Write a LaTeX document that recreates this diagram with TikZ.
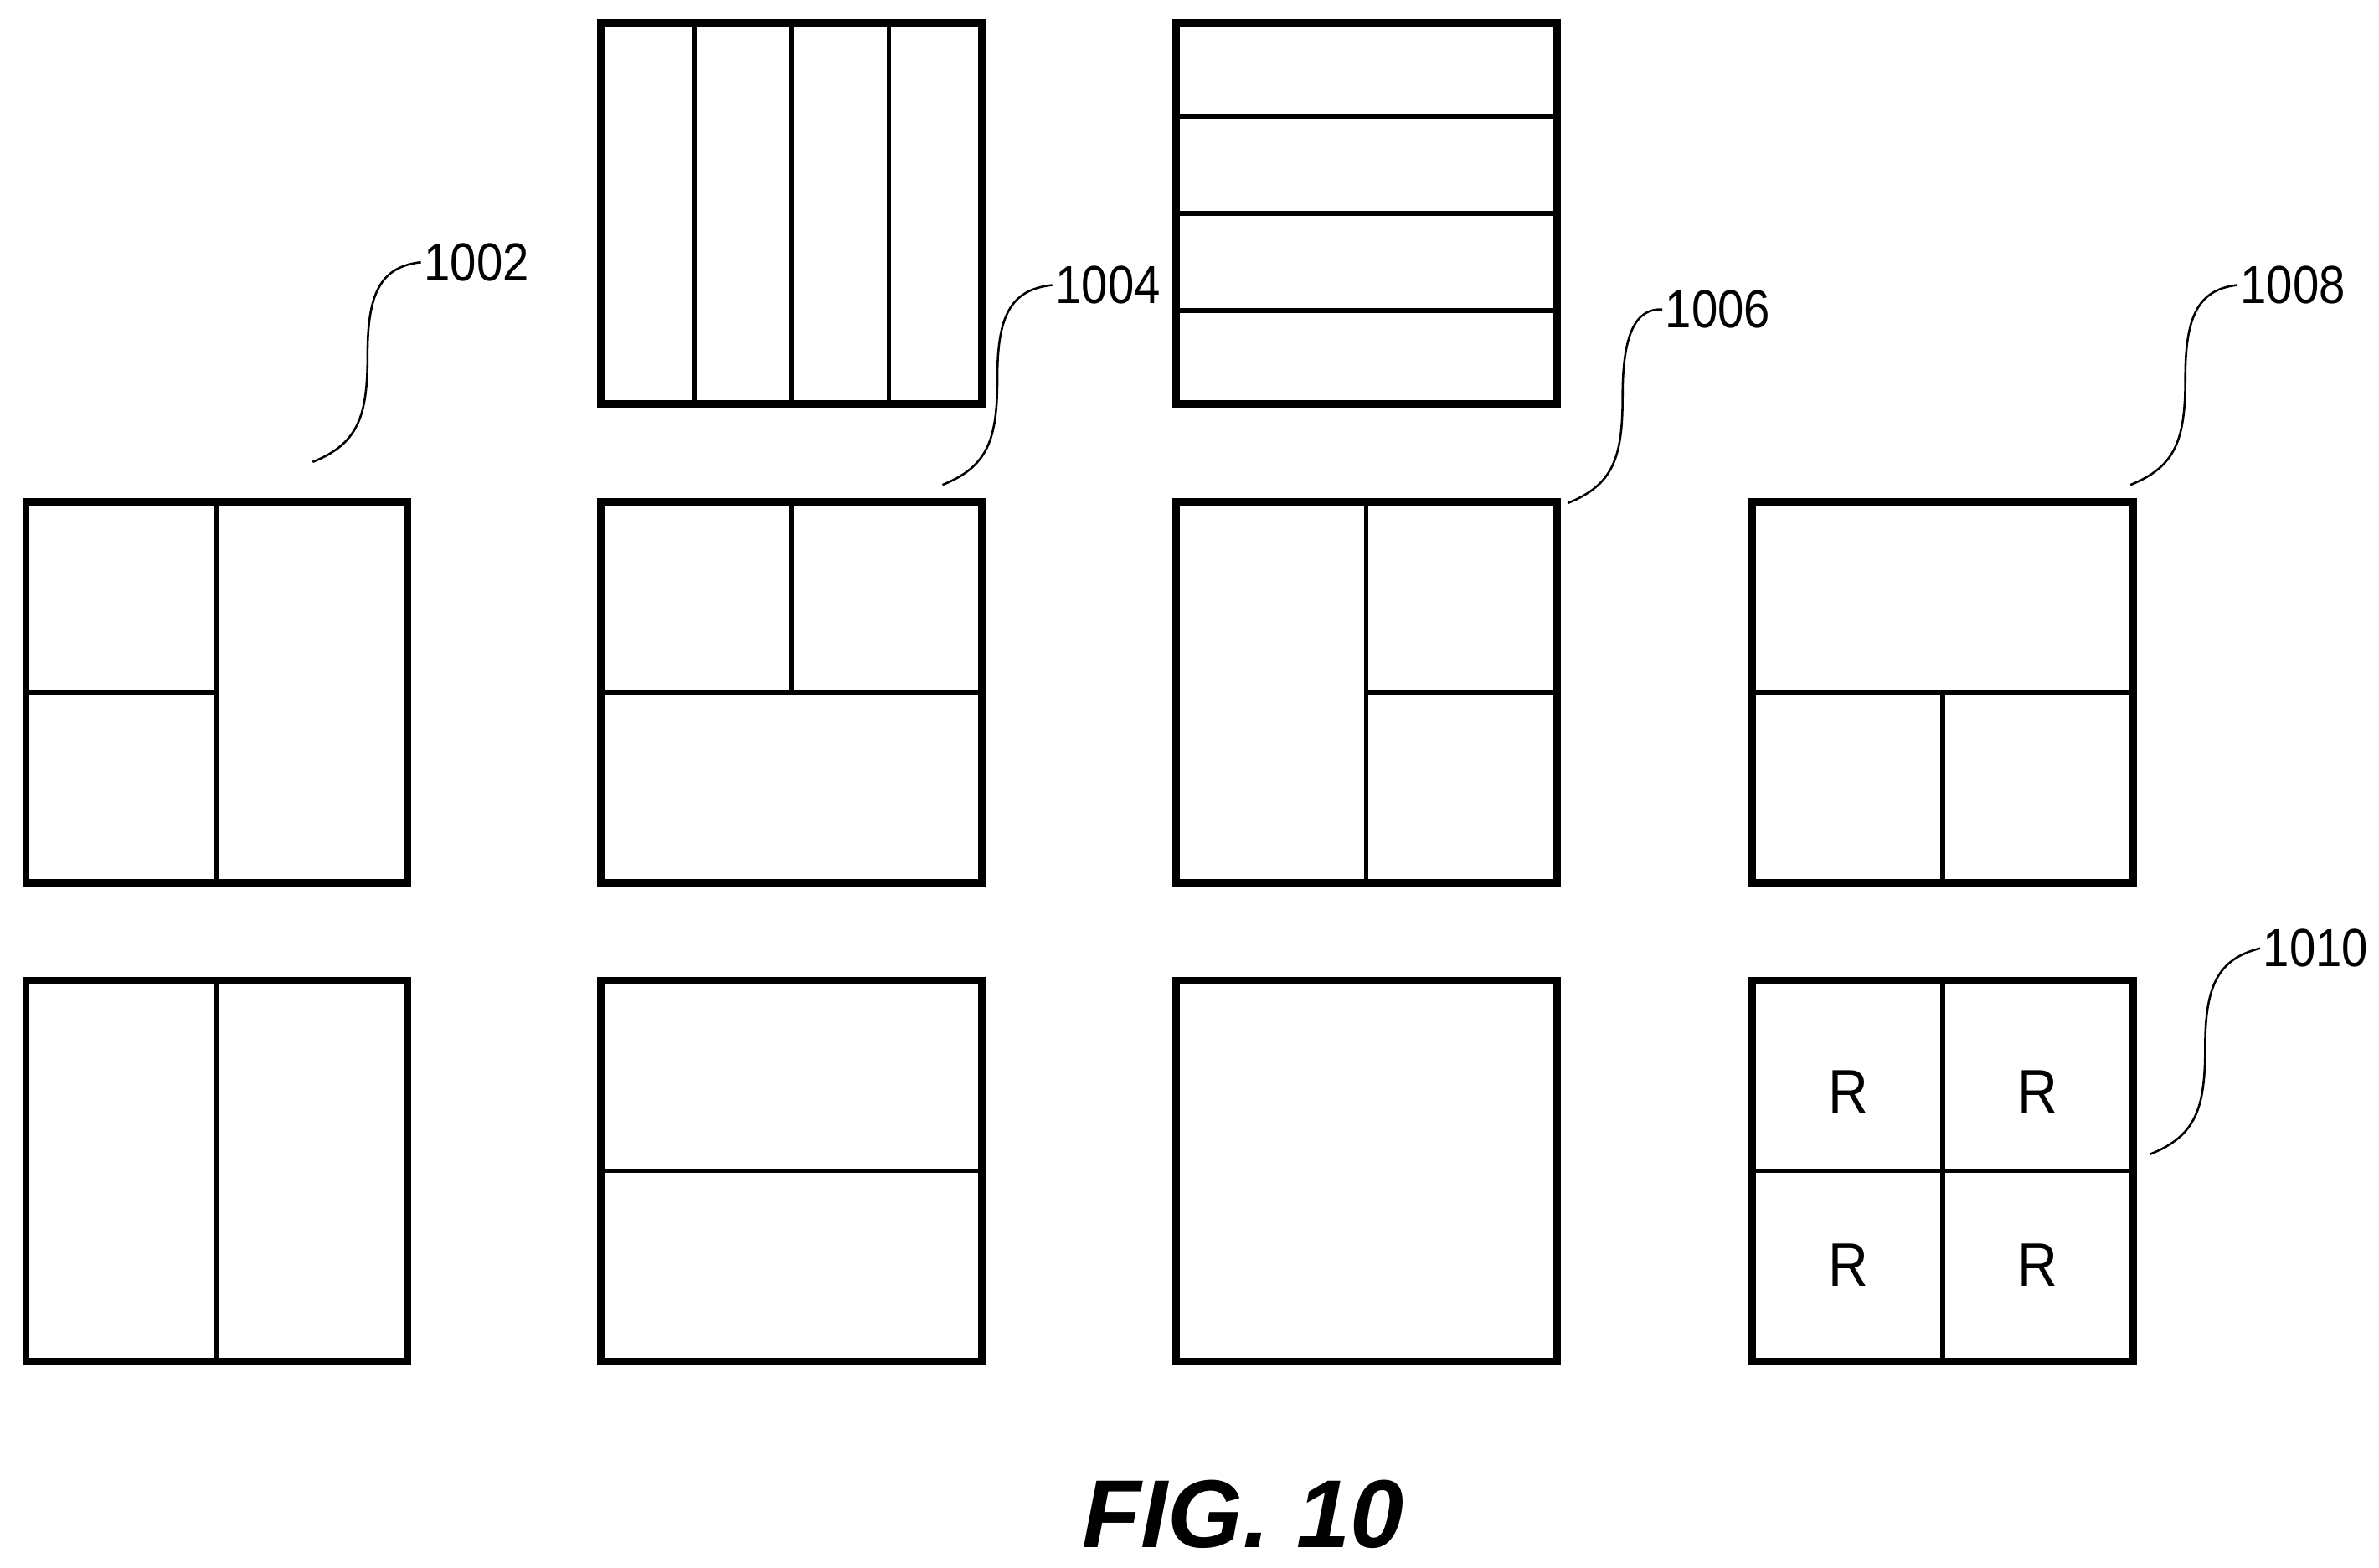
\documentclass[tikz,border=0pt]{standalone}
\usepackage{fontspec}
\setmainfont{Liberation Sans}
\usetikzlibrary{positioning,calc}

\begin{document}
\begin{tikzpicture}[x=0.02cm, y=-0.02cm,
        panel/.style={draw, line width=2.8pt, minimum size=5cm, inner sep=0pt},
        split/.style={line width=1.7pt},
        leader/.style={line width=0.8pt},
        ref/.style={font=\addfontfeatures{FakeStretch=0.88}\fontsize{20}{22}\selectfont, anchor=west, inner sep=1pt}]
        \useasboundingbox (0,0) rectangle (1560,1028);
        % Place panels
        \node [panel] (t1) at (519,140) {};
        \node [panel] (t2) at (896,140) {};
        \foreach \c/\x in {1/142,2/519,3/896,4/1274} {
            \node [panel] (m\c) at (\x,454) {};
            \node [panel] (b\c) at (\x,768) {};
        }

        % Split lines
        \foreach \f in {0.25,0.5,0.75} {
            \draw [split] ($(t1.north west)!\f!(t1.north east)$) -- ($(t1.south west)!\f!(t1.south east)$);
            \draw [split] ($(t2.north west)!\f!(t2.south west)$) -- ($(t2.north east)!\f!(t2.south east)$);
        }
        \draw [split] (m1.north) -- (m1.south);
        \draw [split] (m1.west) -- (m1.center);
        \draw [split] (m2.west) -- (m2.east);
        \draw [split] (m2.north) -- (m2.center);
        \draw [split] (m3.north) -- (m3.south);
        \draw [split] (m3.center) -- (m3.east);
        \draw [split] (m4.west) -- (m4.east);
        \draw [split] (m4.center) -- (m4.south);
        \draw [split] (b1.north) -- (b1.south);
        \draw [split] (b2.west) -- (b2.east);
        \draw [split] (b4.north) -- (b4.south);
        \draw [split] (b4.west) -- (b4.east);
        \foreach \dx/\dy in {-62/-52,62/-52,-62/62,62/62}
            \node [font=\addfontfeatures{FakeStretch=0.9}\fontsize{23}{25}\selectfont] at ($(b4.center)+(\dx,\dy)$) {R};

        % Reference labels and leaders
        \node [ref] (l1002) at (276,172) {1002};
        \node [ref] (l1004) at (690,187) {1004};
        \node [ref] (l1006) at (1090,203) {1006};
        \node [ref] (l1008) at (1467,187) {1008};
        \node [ref] (l1010) at (1482,622) {1010};
        \coordinate (e1002) at (205,303);
        \coordinate (e1004) at (618,318);
        \coordinate (e1006) at (1028,330);
        \coordinate (e1008) at (1397,318);
        \coordinate (e1010) at (1410,757);
        \foreach \r in {1002,1004,1006,1008,1010}
            \draw [leader] (e\r) .. controls ($(e\r)+(30,-12)$) and ($(e\r)+(36,-30)$) .. ($(e\r)+(36,-70)$)
                .. controls ($(e\r)+(36,-110)$) and ($(e\r)+(44,-128)$) .. (l\r.west);

        \node [font=\bfseries\itshape\fontsize{36}{38}\selectfont] (fig) at (815,993) {FIG. 10};
    \end{tikzpicture}
\end{document}
